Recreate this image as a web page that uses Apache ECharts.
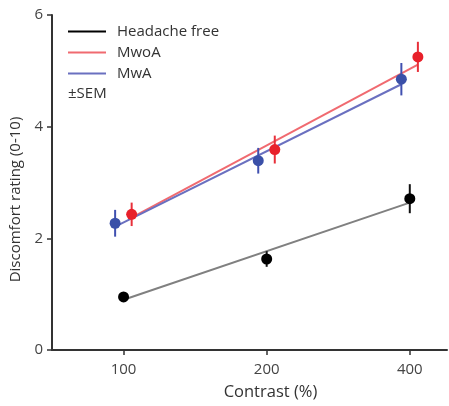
<!DOCTYPE html>
<html>
<head>
<meta charset="utf-8">
<script src="https://cdn.jsdelivr.net/npm/echarts@6/dist/echarts.min.js"></script>
<style>
    html, body { margin: 0; padding: 0; background: #fff; }
    #chart { width: 449px; height: 406px; }
</style>
</head>
<body>
<div id="chart"></div>
<script>
// contrast levels (%) and tick labels
const contrastTicks = [100, 200, 400];

// plotted x positions (groups are nudged left/right of the tick)
const headacheX = [100, 200, 400];
const mwaX = [96, 192, 384];
const mwoaX = [104, 208, 416];

// mean discomfort ratings
const headacheMean = [0.95, 1.63, 2.71];
const mwoaMean = [2.43, 3.59, 5.25];
const mwaMean = [2.27, 3.39, 4.85];

// standard error of the mean
const headacheSem = [0.08, 0.14, 0.26];
const mwoaSem = [0.21, 0.25, 0.27];
const mwaSem = [0.24, 0.23, 0.29];

// fitted lines, start and end values
const headacheFit = [0.90, 2.64];
const mwoaFit = [2.37, 5.11];
const mwaFit = [2.21, 4.76];

const FONT = '"Open Sans", "Noto Sans", sans-serif';

// log2 position of a contrast value, 100% -> 0
function lx(c) {
    return Math.log2(c / 100);
}

function points(xs, ys) {
    return xs.map((x, i) => [lx(x), ys[i]]);
}

function fitLine(xs, fit) {
    return [[lx(xs[0]), fit[0]], [lx(xs[xs.length - 1]), fit[1]]];
}

function bars(xs, ys, sem) {
    return xs.map((x, i) => [lx(x), ys[i] - sem[i], ys[i] + sem[i]]);
}

function errorBarSeries(name, data, color) {
    return {
        name: name,
        type: 'custom',
        z: 3,
        renderItem: function (params, api) {
            const lo = api.coord([api.value(0), api.value(1)]);
            const hi = api.coord([api.value(0), api.value(2)]);
            return {
                type: 'line',
                shape: { x1: lo[0], y1: lo[1], x2: hi[0], y2: hi[1] },
                style: { stroke: color, lineWidth: 2 }
            };
        },
        data: data
    };
}

function fitSeries(name, data, color) {
    return {
        name: name,
        type: 'line',
        data: data,
        symbol: 'none',
        z: 2,
        lineStyle: { color: color, width: 2 },
        itemStyle: { color: color }
    };
}

function pointSeries(name, data, color) {
    return {
        name: name,
        type: 'scatter',
        data: data,
        symbolSize: 11,
        z: 4,
        itemStyle: { color: color, opacity: 1 }
    };
}

const chart = echarts.init(document.getElementById('chart'));

const option = {
    animation: false,
    backgroundColor: '#fff',
    grid: { left: 52, right: 2, top: 15, bottom: 52 },
    legend: {
        left: 63,
        top: 19,
        orient: 'vertical',
        icon: 'rect',
        itemWidth: 38,
        itemHeight: 2,
        itemGap: 6,
        textStyle: { fontFamily: FONT, fontSize: 15, color: '#333', padding: [0, 0, 0, 6] },
        data: [
            { name: 'Headache free', itemStyle: { color: '#000' } },
            { name: 'MwoA', itemStyle: { color: '#f06a70' } },
            { name: 'MwA', itemStyle: { color: '#6a70c0' } }
        ]
    },
    graphic: [{
        type: 'text',
        left: 68,
        top: 86,
        style: { text: '±SEM', fontFamily: FONT, fontSize: 15, fill: '#333' }
    }],
    xAxis: {
        type: 'value',
        min: -0.5,
        max: 2.26,
        name: 'Contrast (%)',
        nameLocation: 'middle',
        nameGap: 34,
        nameTextStyle: { fontFamily: FONT, fontSize: 16.5, color: '#333', padding: [0, 0, 0, 42] },
        splitLine: { show: false },
        axisLine: { onZero: false, lineStyle: { color: '#333', width: 2 } },
        axisTick: {
            show: true,
            length: 5,
            lineStyle: { color: '#333', width: 1.5 },
            customValues: contrastTicks.map(lx)
        },
        axisLabel: {
            fontFamily: FONT,
            fontSize: 15,
            color: '#444',
            margin: 12,
            customValues: contrastTicks.map(lx),
            formatter: v => String(Math.round(100 * Math.pow(2, v)))
        }
    },
    yAxis: {
        type: 'value',
        min: 0,
        max: 6,
        interval: 2,
        name: 'Discomfort rating (0-10)',
        nameLocation: 'middle',
        nameGap: 27,
        nameTextStyle: { fontFamily: FONT, fontSize: 15, color: '#333', padding: [0, 34, 0, 0] },
        splitLine: { show: false },
        axisLine: { show: true, onZero: false, lineStyle: { color: '#333', width: 2 } },
        axisTick: { show: true, length: 5, lineStyle: { color: '#333', width: 1.5 } },
        axisLabel: { fontFamily: FONT, fontSize: 15, color: '#444', margin: 9 }
    },
    series: [
        fitSeries('Headache free', fitLine(headacheX, headacheFit), '#808080'),
        fitSeries('MwoA', fitLine(mwoaX, mwoaFit), '#f06a70'),
        fitSeries('MwA', fitLine(mwaX, mwaFit), '#6a70c0'),
        errorBarSeries('hf-sem', bars(headacheX, headacheMean, headacheSem), '#111'),
        errorBarSeries('mwoa-sem', bars(mwoaX, mwoaMean, mwoaSem), '#e8303a'),
        errorBarSeries('mwa-sem', bars(mwaX, mwaMean, mwaSem), '#4050b0'),
        pointSeries('hf-pts', points(headacheX, headacheMean), '#000'),
        pointSeries('mwoa-pts', points(mwoaX, mwoaMean), '#e8202a'),
        pointSeries('mwa-pts', points(mwaX, mwaMean), '#3a50a8')
    ]
};

chart.setOption(option);
</script>
</body>
</html>
